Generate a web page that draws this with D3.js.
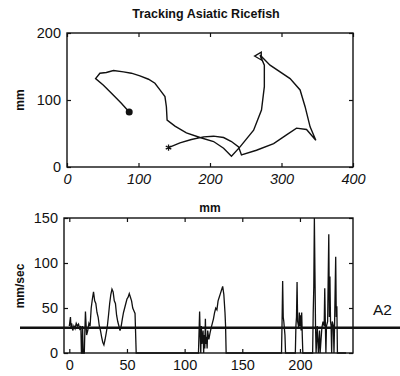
<!DOCTYPE html>
<html>
<head>
<meta charset="utf-8">
<script src="https://cdn.jsdelivr.net/npm/d3@7"></script>
<style>
  body { margin: 0; background: #fff; }
  text { font-family: "Liberation Sans", Arial, sans-serif; fill: #111; }
</style>
</head>
<body>
<script>
// track of the fish (mm)
var trackX = [87, 76, 65, 51, 40, 46, 55, 65, 79, 90, 102, 114, 123, 130, 137, 139, 140, 151, 167, 186, 205, 219, 230,
              242, 261, 272, 276, 276, 270, 284, 312, 326, 333, 340, 348, 335, 321, 307, 289, 265, 244,
              240, 230, 219, 205, 191, 174, 158, 142];
var trackY = [82, 95, 107, 122, 132, 140, 141, 144, 142, 140, 136, 131, 125, 115, 105, 90, 70, 61, 51, 44, 38, 28, 16,
              30, 55, 85, 120, 152, 167, 152, 132, 115, 90, 60, 40, 56, 58, 48, 35, 25, 18,
              30, 38, 44, 46, 45, 41, 36, 29];

// speed per frame (mm/sec)
var frames = [0, 1, 1.5, 2, 3, 4, 5, 6, 7, 8, 9, 10, 10.5, 11, 11.5, 12, 13, 13.5, 14, 15, 16, 17, 18, 19, 20, 21, 22, 23, 24, 25,
              26, 27, 28, 29, 30, 31, 32, 33, 34, 35, 36, 37, 38, 39, 40, 41, 42, 43, 44, 45, 46, 47, 48, 49, 50, 51, 52, 53,
              54, 55, 56, 57, 58,
              112, 113, 113.5, 114, 114.5, 115, 116, 116.5, 117, 117.5, 118, 118.5, 119, 119.5, 120, 121, 122, 123, 124, 125,
              126, 127, 128, 129, 130, 131, 132, 133, 134, 135, 135.5, 136,
              184, 184.5, 185, 185.5, 186, 187, 187.5,
              196, 196.5, 197, 197.5, 198, 199, 199.5, 200, 200.5, 201, 201.5, 202, 202.5,
              211, 211.5, 212, 212.5, 213, 213.5, 214, 215, 216, 217, 217.5, 219, 220, 221, 221.5, 222, 222.5,
              223, 224, 225, 225.5, 226, 226.5, 227, 227.5, 228, 229, 229.5, 230, 231, 231.5, 232, 232.5, 240];
var speeds = [30, 40, 28, 33, 25, 30, 27, 33, 30, 32, 27, 30, 0, 0, 30, 0, 0, 25, 46, 20, 25, 33, 30, 50, 60, 68, 58, 55, 45, 40,
              30, 25, 18, 12, 9, 15, 22, 30, 42, 55, 65, 71, 68, 58, 55, 42, 35, 30, 25, 30, 38, 45, 50, 55, 60, 62, 66, 62,
              58, 50, 47, 44, 0,
              0, 46, 20, 0, 30, 10, 25, 0, 20, 5, 38, 10, 18, 5, 25, 15, 22, 28, 33, 38,
              45, 50, 48, 58, 62, 66, 70, 74, 65, 45, 30, 0,
              0, 35, 80, 40, 35, 20, 0,
              0, 30, 40, 79, 35, 28, 45, 30, 42, 25, 45, 20, 0,
              0, 45, 73, 150, 90, 30, 0, 30, 0, 25, 0, 28, 35, 30, 72, 35, 0,
              30, 35, 132, 40, 85, 35, 30, 0, 35, 30, 0, 30, 107, 40, 52, 0, 0];

var threshold = 28;
var xTicks1 = [0, 100, 200, 300, 400], yTicks1 = [0, 100, 200];
var xTicks2 = [0, 50, 100, 150, 200], yTicks2 = [0, 50, 100, 150];

var svg = d3.select("body").append("svg")
    .attr("width", 400)
    .attr("height", 376);

// ---------- top plot: track ----------
var x1 = d3.scaleLinear().domain([0, 400]).range([67, 353]);
var y1 = d3.scaleLinear().domain([0, 200]).range([167, 33]);

// boxed axes, ticks pointing in (matlab style)
function frame(x, y, xt, yt, italic) {
  var r = x.range(), t = y.range();
  var g = svg.append("g");
  g.append("rect")
      .attr("x", r[0]).attr("y", t[1])
      .attr("width", r[1] - r[0]).attr("height", t[0] - t[1])
      .style("fill", "none").style("stroke", "#111").style("stroke-width", 1.4);
  var bx = g.append("g").attr("transform", "translate(0," + t[0] + ")")
      .call(d3.axisBottom(x).tickValues(xt).tickSizeInner(-4).tickSizeOuter(0).tickPadding(7));
  g.append("g").attr("transform", "translate(0," + t[1] + ")")
      .call(d3.axisTop(x).tickValues(xt).tickSizeInner(-4).tickSizeOuter(0).tickFormat(""));
  g.append("g").attr("transform", "translate(" + r[0] + ",0)")
      .call(d3.axisLeft(y).tickValues(yt).tickSizeInner(-4).tickSizeOuter(0).tickPadding(6));
  g.append("g").attr("transform", "translate(" + r[1] + ",0)")
      .call(d3.axisRight(y).tickValues(yt).tickSizeInner(-4).tickSizeOuter(0).tickFormat(""));
  g.selectAll(".domain").remove();
  g.selectAll(".tick line").style("stroke", "#111").style("stroke-width", 1.2);
  g.selectAll(".tick text").style("font-size", "14.5px").style("fill", "#111");
  if (italic) bx.selectAll(".tick text").style("font-style", "italic");
  return g;
}

frame(x1, y1, xTicks1, yTicks1, true);

var track = d3.line()
    .x(function(d, i) { return x1(trackX[i]); })
    .y(function(d, i) { return y1(trackY[i]); });

svg.append("path")
    .attr("d", track(trackX))
    .style("fill", "none")
    .style("stroke", "#111")
    .style("stroke-width", 1.4);

// start dot
svg.append("circle")
    .attr("cx", x1(trackX[0])).attr("cy", y1(trackY[0]))
    .attr("r", 3.5).style("fill", "#111");

// turn marker
svg.append("path")
    .attr("d", d3.symbol().type(d3.symbolTriangle).size(26))
    .attr("transform", "translate(" + (x1(trackX[28]) - 1) + "," + (y1(trackY[28]) + 1) + ") rotate(-90)")
    .style("fill", "none").style("stroke", "#111").style("stroke-width", 1.3);

// end marker
var last = trackX.length - 1;
svg.append("path")
    .attr("d", d3.symbol().type(d3.symbolAsterisk || d3.symbolCross).size(28))
    .attr("transform", "translate(" + x1(trackX[last]) + "," + y1(trackY[last]) + ")")
    .style("fill", "none").style("stroke", "#111").style("stroke-width", 1.3);

svg.append("text")
    .attr("x", 206).attr("y", 18)
    .attr("text-anchor", "middle")
    .style("font-size", "12.5px")
    .style("font-weight", "bold")
    .text("Tracking Asiatic Ricefish");

svg.append("text")
    .attr("transform", "translate(24,100) rotate(-90)")
    .attr("text-anchor", "middle")
    .style("font-size", "12px")
    .style("font-weight", "bold")
    .text("mm");

svg.append("text")
    .attr("x", 210).attr("y", 212)
    .attr("text-anchor", "middle")
    .style("font-size", "12px")
    .style("font-weight", "bold")
    .text("mm");

// ---------- bottom plot: speed ----------
var x2 = d3.scaleLinear().domain([-4.6, 246]).range([64, 353]);
var y2 = d3.scaleLinear().domain([0, 150]).range([353, 218]);

frame(x2, y2, xTicks2, yTicks2, false);

svg.append("clipPath").attr("id", "clip")
  .append("rect").attr("x", 64).attr("y", 217).attr("width", 289).attr("height", 137);

var speedLine = d3.line()
    .x(function(d, i) { return x2(frames[i]); })
    .y(function(d, i) { return y2(speeds[i]); });

svg.append("path")
    .attr("d", speedLine(frames))
    .attr("clip-path", "url(#clip)")
    .style("fill", "none")
    .style("stroke", "#111")
    .style("stroke-width", 1.3);

// threshold line
svg.append("line")
    .attr("x1", 20).attr("x2", 400)
    .attr("y1", y2(threshold)).attr("y2", y2(threshold))
    .style("stroke", "#111").style("stroke-width", 2.4);

svg.append("text")
    .attr("x", 373).attr("y", 315)
    .style("font-size", "15.5px")
    .text("A2");

svg.append("text")
    .attr("transform", "translate(24,286) rotate(-90)")
    .attr("text-anchor", "middle")
    .style("font-size", "12px")
    .style("font-weight", "bold")
    .text("mm/sec");
</script>
</body>
</html>
